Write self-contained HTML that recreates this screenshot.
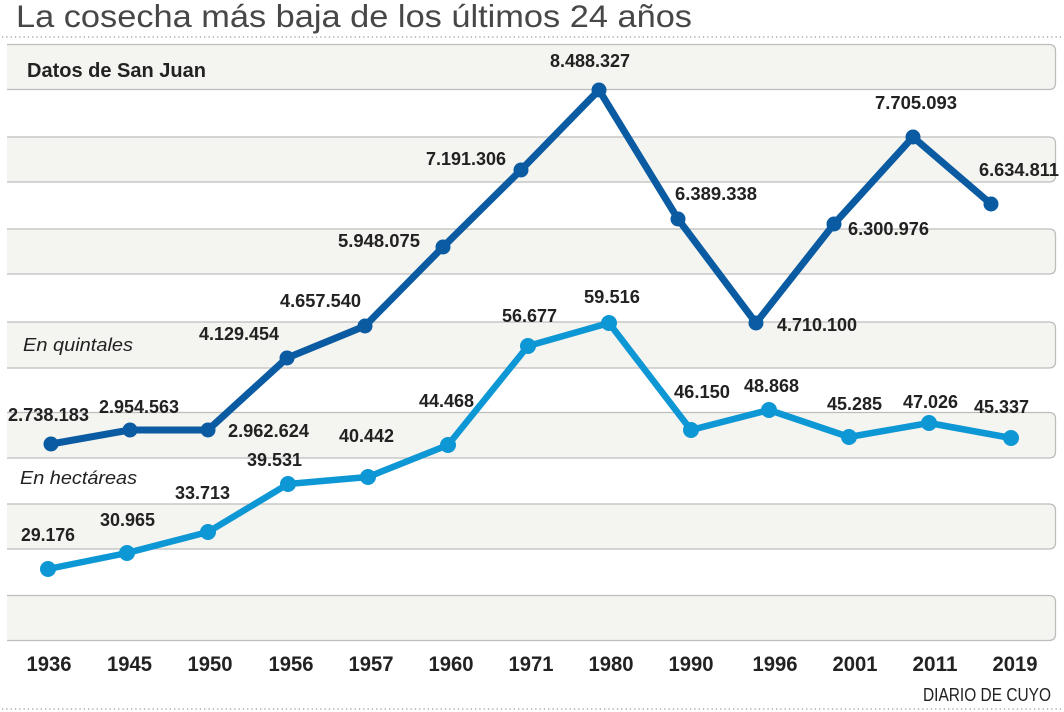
<!DOCTYPE html>
<html><head><meta charset="utf-8"><style>
html,body{margin:0;padding:0;background:#fff;}
svg{display:block;}
</style></head><body>
<svg width="1064" height="712" viewBox="0 0 1064 712" xmlns="http://www.w3.org/2000/svg">
<rect width="1064" height="712" fill="#fff"/>
<text x="16" y="27" font-family="Liberation Sans, sans-serif" font-size="31.5" fill="#474747" textLength="676" lengthAdjust="spacingAndGlyphs">La cosecha más baja de los últimos 24 años</text>
<line x1="2" y1="37" x2="1064" y2="37" stroke="#9a9a9a" stroke-width="1.3" stroke-dasharray="1.3 3"/>
<line x1="2" y1="709" x2="1064" y2="709" stroke="#9a9a9a" stroke-width="1.3" stroke-dasharray="1.3 3"/>
<g fill="#f4f4f0" stroke="#bdbdbd" stroke-width="1.3">
<path d="M7 44.5 H1049 Q1055.5 44.5 1055.5 51 V83 Q1055.5 89.5 1049 89.5 H7"/>
<path d="M7 137 H1049 Q1055.5 137 1055.5 143.5 V175.5 Q1055.5 182 1049 182 H7"/>
<path d="M7 229 H1049 Q1055.5 229 1055.5 235.5 V267.5 Q1055.5 274 1049 274 H7"/>
<path d="M7 322 H1049 Q1055.5 322 1055.5 328.5 V361.5 Q1055.5 368 1049 368 H7"/>
<path d="M7 412.5 H1049 Q1055.5 412.5 1055.5 419 V451.5 Q1055.5 458 1049 458 H7"/>
<path d="M7 504 H1049 Q1055.5 504 1055.5 510.5 V542.5 Q1055.5 549 1049 549 H7"/>
<path d="M7 595.5 H1049 Q1055.5 595.5 1055.5 602 V634 Q1055.5 640.5 1049 640.5 H7"/>
</g>
<text x="27" y="77" font-family="Liberation Sans, sans-serif" font-weight="bold" font-size="20" fill="#222" textLength="179" lengthAdjust="spacingAndGlyphs">Datos de San Juan</text>
<text x="23" y="351" font-family="Liberation Sans, sans-serif" font-style="italic" font-size="18.5" fill="#222" textLength="110" lengthAdjust="spacingAndGlyphs">En quintales</text>
<text x="20" y="484" font-family="Liberation Sans, sans-serif" font-style="italic" font-size="18.5" fill="#222" textLength="117" lengthAdjust="spacingAndGlyphs">En hectáreas</text>

<g fill="none" stroke-linejoin="round" stroke-linecap="round">
<polyline stroke="#0b5ba2" stroke-width="7" points="51,444 130,430 208,430 287,358 365,326 443,247 521,170 599,90 678,219 756,323 834,224 913,137 991,204"/>
<polyline stroke="#0d97d4" stroke-width="6.5" points="48,569 127,553 208,532 288,484 368,477 448,445 528,346 609,323 691,430 769,410 849,437 929,423 1011,438"/>
</g>
<g fill="#0b5ba2">
<circle cx="51" cy="444" r="7.5"/><circle cx="130" cy="430" r="7.5"/><circle cx="208" cy="430" r="7.5"/><circle cx="287" cy="358" r="7.5"/><circle cx="365" cy="326" r="7.5"/><circle cx="443" cy="247" r="7.5"/><circle cx="521" cy="170" r="7.5"/><circle cx="599" cy="90" r="7.5"/><circle cx="678" cy="219" r="7.5"/><circle cx="756" cy="323" r="7.5"/><circle cx="834" cy="224" r="7.5"/><circle cx="913" cy="137" r="7.5"/><circle cx="991" cy="204" r="7.5"/>
</g>
<g fill="#0d97d4">
<circle cx="48" cy="569" r="8"/><circle cx="127" cy="553" r="8"/><circle cx="208" cy="532" r="8"/><circle cx="288" cy="484" r="8"/><circle cx="368" cy="477" r="8"/><circle cx="448" cy="445" r="8"/><circle cx="528" cy="346" r="8"/><circle cx="609" cy="323" r="8"/><circle cx="691" cy="430" r="8"/><circle cx="769" cy="410" r="8"/><circle cx="849" cy="437" r="8"/><circle cx="929" cy="423" r="8"/><circle cx="1011" cy="438" r="8"/>
</g>

<g font-family="Liberation Sans, sans-serif" font-weight="bold" font-size="18" fill="#222">
<text x="8" y="421" textLength="81" lengthAdjust="spacingAndGlyphs">2.738.183</text>
<text x="99" y="413" textLength="80" lengthAdjust="spacingAndGlyphs">2.954.563</text>
<text x="228" y="437" textLength="81" lengthAdjust="spacingAndGlyphs">2.962.624</text>
<text x="199" y="340" textLength="80" lengthAdjust="spacingAndGlyphs">4.129.454</text>
<text x="280" y="307" textLength="81" lengthAdjust="spacingAndGlyphs">4.657.540</text>
<text x="338" y="247" textLength="82" lengthAdjust="spacingAndGlyphs">5.948.075</text>
<text x="426" y="165" textLength="80" lengthAdjust="spacingAndGlyphs">7.191.306</text>
<text x="550" y="67" textLength="80" lengthAdjust="spacingAndGlyphs">8.488.327</text>
<text x="675" y="200" textLength="82" lengthAdjust="spacingAndGlyphs">6.389.338</text>
<text x="777" y="331" textLength="80" lengthAdjust="spacingAndGlyphs">4.710.100</text>
<text x="848" y="235" textLength="81" lengthAdjust="spacingAndGlyphs">6.300.976</text>
<text x="875" y="109" textLength="82" lengthAdjust="spacingAndGlyphs">7.705.093</text>
<text x="979" y="176" textLength="80" lengthAdjust="spacingAndGlyphs">6.634.811</text>

<text x="21" y="541" textLength="54" lengthAdjust="spacingAndGlyphs">29.176</text>
<text x="100" y="526" textLength="55" lengthAdjust="spacingAndGlyphs">30.965</text>
<text x="175" y="499" textLength="55" lengthAdjust="spacingAndGlyphs">33.713</text>
<text x="247" y="466" textLength="55" lengthAdjust="spacingAndGlyphs">39.531</text>
<text x="339" y="442" textLength="55" lengthAdjust="spacingAndGlyphs">40.442</text>
<text x="419" y="407" textLength="55" lengthAdjust="spacingAndGlyphs">44.468</text>
<text x="502" y="322" textLength="55" lengthAdjust="spacingAndGlyphs">56.677</text>
<text x="584" y="303" textLength="56" lengthAdjust="spacingAndGlyphs">59.516</text>
<text x="674" y="398" textLength="56" lengthAdjust="spacingAndGlyphs">46.150</text>
<text x="744" y="392" textLength="55" lengthAdjust="spacingAndGlyphs">48.868</text>
<text x="827" y="410" textLength="55" lengthAdjust="spacingAndGlyphs">45.285</text>
<text x="903" y="408" textLength="55" lengthAdjust="spacingAndGlyphs">47.026</text>
<text x="974" y="413" textLength="55" lengthAdjust="spacingAndGlyphs">45.337</text>
</g>

<g font-family="Liberation Sans, sans-serif" font-weight="bold" font-size="21" fill="#222" text-anchor="middle">
<text x="49" y="671" textLength="45" lengthAdjust="spacingAndGlyphs">1936</text>
<text x="129.5" y="671" textLength="45" lengthAdjust="spacingAndGlyphs">1945</text>
<text x="210" y="671" textLength="45" lengthAdjust="spacingAndGlyphs">1950</text>
<text x="291" y="671" textLength="45" lengthAdjust="spacingAndGlyphs">1956</text>
<text x="371" y="671" textLength="45" lengthAdjust="spacingAndGlyphs">1957</text>
<text x="451" y="671" textLength="45" lengthAdjust="spacingAndGlyphs">1960</text>
<text x="531" y="671" textLength="45" lengthAdjust="spacingAndGlyphs">1971</text>
<text x="611" y="671" textLength="45" lengthAdjust="spacingAndGlyphs">1980</text>
<text x="691" y="671" textLength="45" lengthAdjust="spacingAndGlyphs">1990</text>
<text x="775" y="671" textLength="45" lengthAdjust="spacingAndGlyphs">1996</text>
<text x="855" y="671" textLength="45" lengthAdjust="spacingAndGlyphs">2001</text>
<text x="935" y="671" textLength="45" lengthAdjust="spacingAndGlyphs">2011</text>
<text x="1015" y="671" textLength="45" lengthAdjust="spacingAndGlyphs">2019</text>
</g>
<text x="923" y="701" font-family="Liberation Sans, sans-serif" font-size="18.5" fill="#222" textLength="128" lengthAdjust="spacingAndGlyphs">DIARIO DE CUYO</text>
</svg>
</body></html>
